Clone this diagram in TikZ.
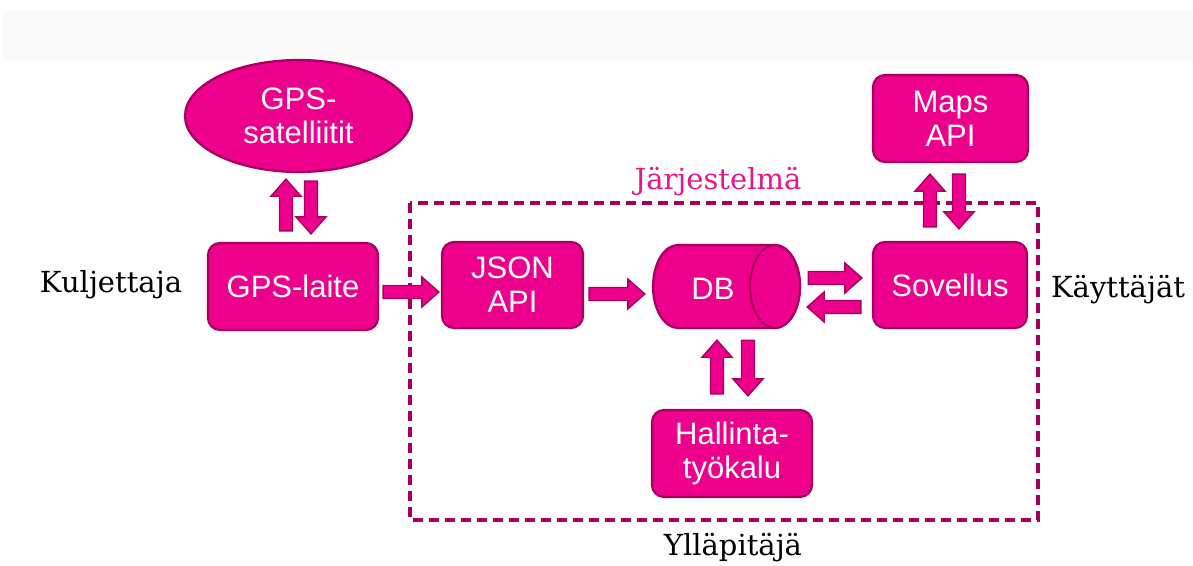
\documentclass[tikz,border=0pt]{standalone}
\usepackage{fontspec}
\setmainfont{DejaVu Serif}
\newfontfamily\boxfont{Liberation Sans}
\usetikzlibrary{shapes.geometric,calc}
\definecolor{mag}{HTML}{EC008C}
\definecolor{magdark}{HTML}{A8005F}
\definecolor{dashc}{HTML}{A3005E}
\definecolor{titlec}{HTML}{E6168A}
\tikzset{
  boxtext/.style={text=white, font=\boxfont\fontsize{31}{34}\selectfont, align=center},
  box/.style={boxtext, draw=magdark, line width=2.2pt, fill=mag, rounded corners=12pt, inner sep=0pt},
  oval/.style={boxtext, ellipse, draw=magdark, line width=2.2pt, fill=mag, inner sep=0pt},
  cyl/.style={draw=magdark, line width=2.2pt, fill=mag},
  barr/.style={draw=magdark, line width=1.4pt, fill=mag, line join=miter},
  actor/.style={font=\fontsize{29}{32}\selectfont, text=black},
}
\newcommand\blockarrow[2]{%
  \coordinate (bh) at ($(#2)!17pt!(#1)$);
  \draw[barr] ($(#1)!6.5pt!90:(#2)$) -- ($(bh)!6.5pt!-90:(#1)$)
    -- ($(bh)!15pt!-90:(#1)$) -- (#2) -- ($(bh)!15pt!90:(#1)$)
    -- ($(bh)!6.5pt!90:(#1)$) -- ($(#1)!6.5pt!-90:(#2)$) -- cycle;
}
\begin{document}
\begin{tikzpicture}[x=1pt,y=-1pt]
\useasboundingbox (0,0) rectangle (1193,565);
\fill[black!2] (3,11) rectangle (1193,60);

% system frame
\draw[dashc, line width=3.5pt, dash pattern=on 10pt off 6pt] (410,203) rectangle (1038,520);
\node[font=\fontsize{29}{34}\selectfont, text=titlec] (sys) at (718,182) {Järjestelmä};

% nodes
\node[oval, minimum width=227pt, minimum height=112pt] (sat) at (298.5,116) {GPS-\\satelliitit};
\node[box, minimum width=170pt, minimum height=87pt] (laite) at (293,286.5) {GPS-laite};
\node[box, minimum width=141pt, minimum height=86pt] (json) at (512.5,285) {JSON\\API};
\node[minimum width=147pt, minimum height=83pt, inner sep=0pt] (db) at (726.5,286.5) {};
\draw[cyl] (678,245) -- (775,245) arc[start angle=-90, end angle=90, x radius=25, y radius=41.5]
  -- (678,328) arc[start angle=90, end angle=270, x radius=25, y radius=41.5] -- cycle;
\draw[cyl] (775,286.5) ellipse[x radius=25, y radius=41.5];
\node[boxtext] (dbt) at (713,289) {DB};
\node[box, minimum width=154pt, minimum height=86pt] (sov) at (950,285) {Sovellus};
\node[box, minimum width=155pt, minimum height=87pt] (maps) at (950.5,118.5) {Maps\\API};
\node[box, minimum width=160pt, minimum height=87pt] (hall) at (732,453.5) {Hallinta-\\työkalu};

% actors
\node[actor] (kul) at (111,285) {Kuljettaja};
\node[actor] (kay) at (1118,290) {Käyttäjät};
\node[actor] (yll) at (733,548) {Ylläpitäjä};

% arrow end points
\coordinate (a1s) at ($(laite.north)+(-7,-11)$);
\coordinate (a1e) at ($(sat.south)+(-12.5,6)$);
\coordinate (a2s) at ($(sat.south)+(12.5,8)$);
\coordinate (a2e) at ($(laite.north)+(18,-8)$);
\coordinate (a3s) at ($(laite.east)+(4,5.5)$);
\coordinate (a3e) at ($(json.west)+(-2,7)$);
\coordinate (a4s) at ($(json.east)+(5,9)$);
\coordinate (a4e) at ($(db.west)+(-8,7.5)$);
\coordinate (a5s) at ($(db.east)+(8,-8.5)$);
\coordinate (a5e) at ($(sov.west)+(-10,-7)$);
\coordinate (a6s) at ($(sov.west)+(-11,22)$);
\coordinate (a6e) at ($(db.east)+(7,20.5)$);
\coordinate (a7s) at ($(sov.north)+(-20,-14)$);
\coordinate (a7e) at ($(maps.south)+(-20.5,11)$);
\coordinate (a8s) at ($(maps.south)+(8.5,11)$);
\coordinate (a8e) at ($(sov.north)+(9,-12)$);
\coordinate (a9s) at ($(hall.north)+(-15,-15)$);
\coordinate (a9e) at ($(db.south)+(-9.5,12)$);
\coordinate (a10s) at ($(db.south)+(21.5,12)$);
\coordinate (a10e) at ($(hall.north)+(16,-13)$);

\blockarrow{a1s}{a1e}
\blockarrow{a2s}{a2e}
\blockarrow{a3s}{a3e}
\blockarrow{a4s}{a4e}
\blockarrow{a5s}{a5e}
\blockarrow{a6s}{a6e}
\blockarrow{a7s}{a7e}
\blockarrow{a8s}{a8e}
\blockarrow{a9s}{a9e}
\blockarrow{a10s}{a10e}
\end{tikzpicture}
\end{document}
